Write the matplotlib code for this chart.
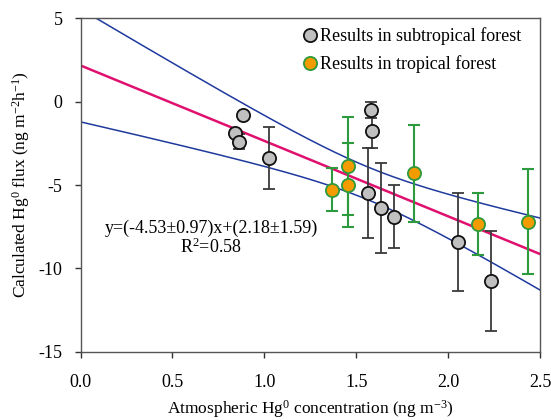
import numpy as np
import matplotlib
matplotlib.use('Agg')
import matplotlib.pyplot as plt

plt.rcParams['font.family'] = ['Liberation Serif', 'DejaVu Serif']
plt.rcParams['mathtext.fontset'] = 'custom'
plt.rcParams['mathtext.rm'] = 'Liberation Serif'
plt.rcParams['mathtext.it'] = 'Liberation Serif:italic'
plt.rcParams['axes.unicode_minus'] = False

# Results in subtropical forest
sub_x = [0.884, 0.842, 0.861, 1.027, 1.581, 1.588, 1.566, 1.633, 1.706, 2.056, 2.233]
sub_y = [-0.80, -1.89, -2.40, -3.36, -0.50, -1.76, -5.50, -6.40, -6.90, -8.41, -10.77]
sub_err = [0.0, 0.0, 0.46, 1.86, 0.50, 1.04, 2.70, 2.70, 1.88, 2.94, 3.02]

# Results in tropical forest
trop_x = [1.367, 1.457, 1.457, 1.813, 2.161, 2.436]
trop_y = [-5.28, -3.86, -5.00, -4.30, -7.36, -7.20]
trop_err = [1.29, 2.97, 2.54, 2.90, 1.87, 3.17]

# fitted regression y = (-4.53±0.97)x + (2.18±1.59), R2 = 0.58
slope, slope_se = -4.53, 0.97
icpt, icpt_se = 2.18, 1.59
t_val = 2.131  # 95 %, n = 17

fig = plt.figure(figsize=(5.51, 4.2), dpi=100)
ax = fig.add_axes([0.1461, 0.163, 0.834, 0.793])

# regression line and 95% confidence band
xx = np.linspace(0, 2.5, 200)
x_mean = np.mean(sub_x + trop_x)
var = icpt_se**2 + xx**2 * slope_se**2 - 2 * xx * x_mean * slope_se**2
half = t_val * np.sqrt(var)
fit = icpt + slope * xx
ax.plot(xx, fit + half, color='#1f3a9e', lw=1.1, zorder=1)
ax.plot(xx, fit - half, color='#1f3a9e', lw=1.1, zorder=1)
ax.plot(xx, fit, color='#e0106e', lw=1.8, zorder=1)

ax.errorbar(sub_x, sub_y, yerr=sub_err, fmt='none', ecolor='#3a3a3a',
            elinewidth=1.3, capsize=4.5, capthick=1.3, zorder=2)
ax.errorbar(trop_x, trop_y, yerr=trop_err, fmt='none', ecolor='#2e9a3e',
            elinewidth=1.5, capsize=4.5, capthick=1.5, zorder=2)
ax.plot(sub_x, sub_y, 'o', ms=9.5, mfc='#c0c0c0', mec='#111111', mew=1.3,
        ls='none', zorder=3, label='Results in subtropical forest')
ax.plot(trop_x, trop_y, 'o', ms=9.5, mfc='#f39c00', mec='#2e9a3e', mew=1.3,
        ls='none', zorder=3, label='Results in tropical forest')

ax.text(0.71, -8.2, 'y=(-4.53±0.97)x+(2.18±1.59)\nR$^2$=0.58', ha='center',
        va='center', fontsize=13, linespacing=1.0)

ax.set_xlim(0, 2.5)
ax.set_ylim(-15, 5)
ax.set_xticks([0, 0.5, 1.0, 1.5, 2.0, 2.5])
ax.set_xticklabels(['0.0', '0.5', '1.0', '1.5', '2.0', '2.5'])
ax.set_yticks([-15, -10, -5, 0, 5])
ax.tick_params(direction='out', length=4, width=1, labelsize=13, color='#333333')
ax.tick_params(axis='x', pad=12)
ax.tick_params(axis='y', pad=9)
for s in ax.spines.values():
    s.set_color('#555555')
    s.set_linewidth(1)

ax.set_xlabel('Atmospheric Hg$^0$ concentration (ng m$^{-3}$)', fontsize=12.5, labelpad=5)
ax.set_ylabel('Calculated Hg$^0$ flux (ng m$^{-2}$h$^{-1}$)', fontsize=12.5, labelpad=5)

ax.legend(loc='upper right', bbox_to_anchor=(0.978, 1.0), frameon=False, fontsize=13,
          handletextpad=0.05, labelspacing=0.55, handlelength=1.0,
          borderaxespad=0.3, borderpad=0.2)

plt.savefig('out.png', dpi=100)
